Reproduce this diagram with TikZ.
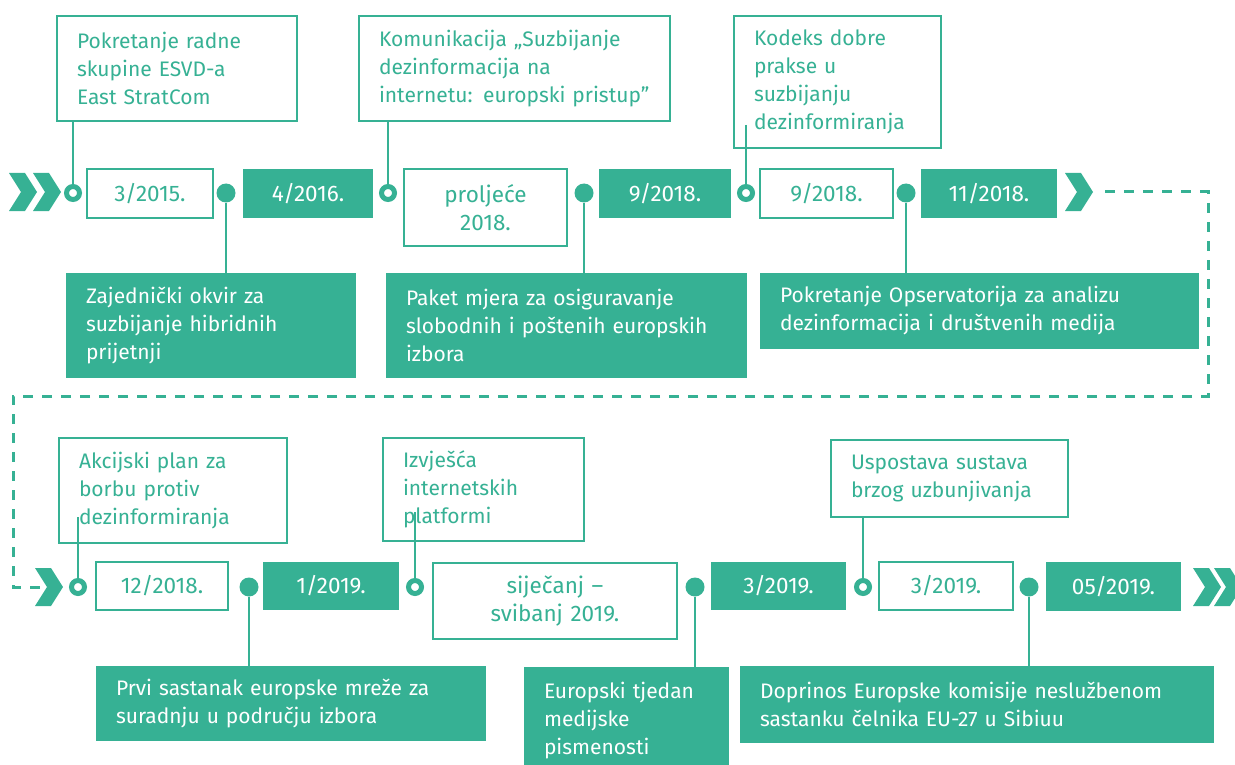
\documentclass[tikz,border=0pt]{standalone}
\usepackage{fontspec}
\setmainfont{Fira Sans}
\definecolor{eu}{RGB}{54,177,148}
\newcommand\bx[7]{%
  \pgfmathsetmacro\bw{#4-#2}\pgfmathsetmacro\bh{#5-#3}%
  \pgfmathsetmacro\bcx{(#2+#4)/2}\pgfmathsetmacro\bcy{(#3+#5)/2}%
  \pgfmathsetmacro\btw{\bw-40}%
  \node[#6, minimum width=\bw pt, minimum height=\bh pt, text width=\btw pt] (#1) at (\bcx,\bcy) {#7};}
\newcommand\chev[2]{%
  \fill[eu] (#1,#2-19) -- ++(16,0) -- ++(12,19) -- ++(-12,19) -- ++(-16,0) -- ++(12,-19) -- cycle;}
\begin{document}
\begin{tikzpicture}[x=1pt,y=-1pt,
  every node/.style={font=\fontsize{21}{28}\selectfont},
  obox/.style={draw=eu, line width=2.5pt, fill=white, text=eu, inner xsep=20pt, inner ysep=0pt, align=left},
  fbox/.style={fill=eu, text=white, inner xsep=20pt, inner ysep=0pt, align=left},
  odate/.style={obox, align=center, font=\fontsize{22.5}{28}\selectfont},
  fdate/.style={fbox, align=center, font=\fontsize{22.5}{28}\selectfont},
  ocirc/.style={circle, draw=eu, fill=white, line width=5pt, minimum size=13pt, inner sep=0pt},
  fcirc/.style={circle, fill=eu, minimum size=19pt, inner sep=0pt},
  conn/.style={draw=eu, line width=2pt},
  dashline/.style={draw=eu, line width=3pt, dash pattern=on 10pt off 9pt}]
\useasboundingbox (0,0) rectangle (1235,765);

% ---------- row 1 ----------
\chev{9}{192}\chev{33}{192}
\chev{1065}{192}

\node[ocirc] (c1) at (73,193) {};
\node[fcirc] (c2) at (226,193) {};
\node[ocirc] (c3) at (388,193) {};
\node[fcirc] (c4) at (584,193) {};
\node[ocirc] (c5) at (746,193) {};
\node[fcirc] (c6) at (906,193) {};

\bx{D1}{87}{169}{213}{218}{odate}{3/2015.}
\bx{D2}{243}{169}{373}{218}{fdate}{4/2016.}
\bx{D3}{404}{169}{567}{246}{odate}{proljeće\\2018.}
\bx{D4}{599}{169}{731}{218}{fdate}{9/2018.}
\bx{D5}{760}{169}{893}{218}{odate}{9/2018.}
\bx{D6}{921}{169}{1057}{218}{fdate}{11/2018.}

\bx{T1}{57}{16}{297}{121}{obox}{Pokretanje radne\\skupine ESVD-a\\East StratCom}
\bx{T2}{359}{16}{670}{121}{obox}{Komunikacija „Suzbijanje\\dezinformacija na\\internetu: europski pristup”}
\bx{T3}{734}{16}{941}{148}{obox}{Kodeks dobre\\prakse u\\suzbijanju\\dezinformiranja}

\bx{B1}{66}{273}{356}{378}{fbox}{Zajednički okvir za\\suzbijanje hibridnih\\prijetnji}
\bx{B2}{386}{273}{747}{378}{fbox}{Paket mjera za osiguravanje\\slobodnih i poštenih europskih\\izbora}
\bx{B3}{760}{273}{1199}{349}{fbox}{Pokretanje Opservatorija za analizu\\dezinformacija i društvenih medija}

\coordinate (k3) at (746,125);
\draw[conn] (c1 |- T1.south) -- (c1.north);
\draw[conn] (c3 |- T2.south) -- (c3.north);
\draw[conn] (k3) -- (c5.north);
\draw[conn] (c2.south) -- (c2 |- B1.north);
\draw[conn] (c4.south) -- (c4 |- B2.north);
\draw[conn] (c6.south) -- (c6 |- B3.north);

% ---------- dashed link ----------
\coordinate (ds) at (1105,192);
\coordinate (dk1) at (1208,192);
\coordinate (dk2) at (1208,396);
\coordinate (dk3) at (13,396);
\coordinate (dk4) at (13,587);
\coordinate (de) at (40,587);
\draw[dashline] (ds) -- (dk1) -- (dk2) -- (dk3) -- (dk4) -- (de);

% ---------- row 2 ----------
\chev{35}{587}
\chev{1193}{587}\chev{1214}{587}

\node[ocirc] (d1) at (78,587) {};
\node[fcirc] (d2) at (249,587) {};
\node[ocirc] (d3) at (415,587) {};
\node[fcirc] (d4) at (695,587) {};
\node[ocirc] (d5) at (863,587) {};
\node[fcirc] (d6) at (1029,587) {};

\bx{E1}{96}{562}{228}{610}{odate}{12/2018.}
\bx{E2}{263}{562}{399}{610}{fdate}{1/2019.}
\bx{E3}{433}{563}{677}{639}{odate}{siječanj –\\svibanj 2019.}
\bx{E4}{711}{562}{846}{610}{fdate}{3/2019.}
\bx{E5}{879}{562}{1013}{610}{odate}{3/2019.}
\bx{E6}{1046}{562}{1181}{611}{fdate}{05/2019.}

\bx{T4}{59}{438}{287}{543}{obox}{Akcijski plan za\\borbu protiv\\dezinformiranja}
\bx{T5}{383}{438}{584}{541}{obox}{Izvješća\\internetskih\\platformi}
\bx{T6}{831}{440}{1068}{517}{obox}{Uspostava sustava\\brzog uzbunjivanja}

\bx{B4}{96}{666}{486}{741}{fbox}{Prvi sastanak europske mreže za\\suradnju u području izbora}
\bx{B5}{524}{667}{729}{775}{fbox}{Europski tjedan\\medijske\\pismenosti}
\bx{B6}{740}{666}{1214}{743}{fbox}{Doprinos Europske komisije neslužbenom\\sastanku čelnika EU-27 u Sibiuu}

\coordinate (k4) at (78,517);
\coordinate (k5) at (415,512);
\draw[conn] (k4) -- (d1.north);
\draw[conn] (k5) -- (d3.north);
\draw[conn] (d5 |- T6.south) -- (d5.north);
\draw[conn] (d2.south) -- (d2 |- B4.north);
\draw[conn] (d4.south) -- (d4 |- B5.north);
\draw[conn] (d6.south) -- (d6 |- B6.north);
\end{tikzpicture}
\end{document}
